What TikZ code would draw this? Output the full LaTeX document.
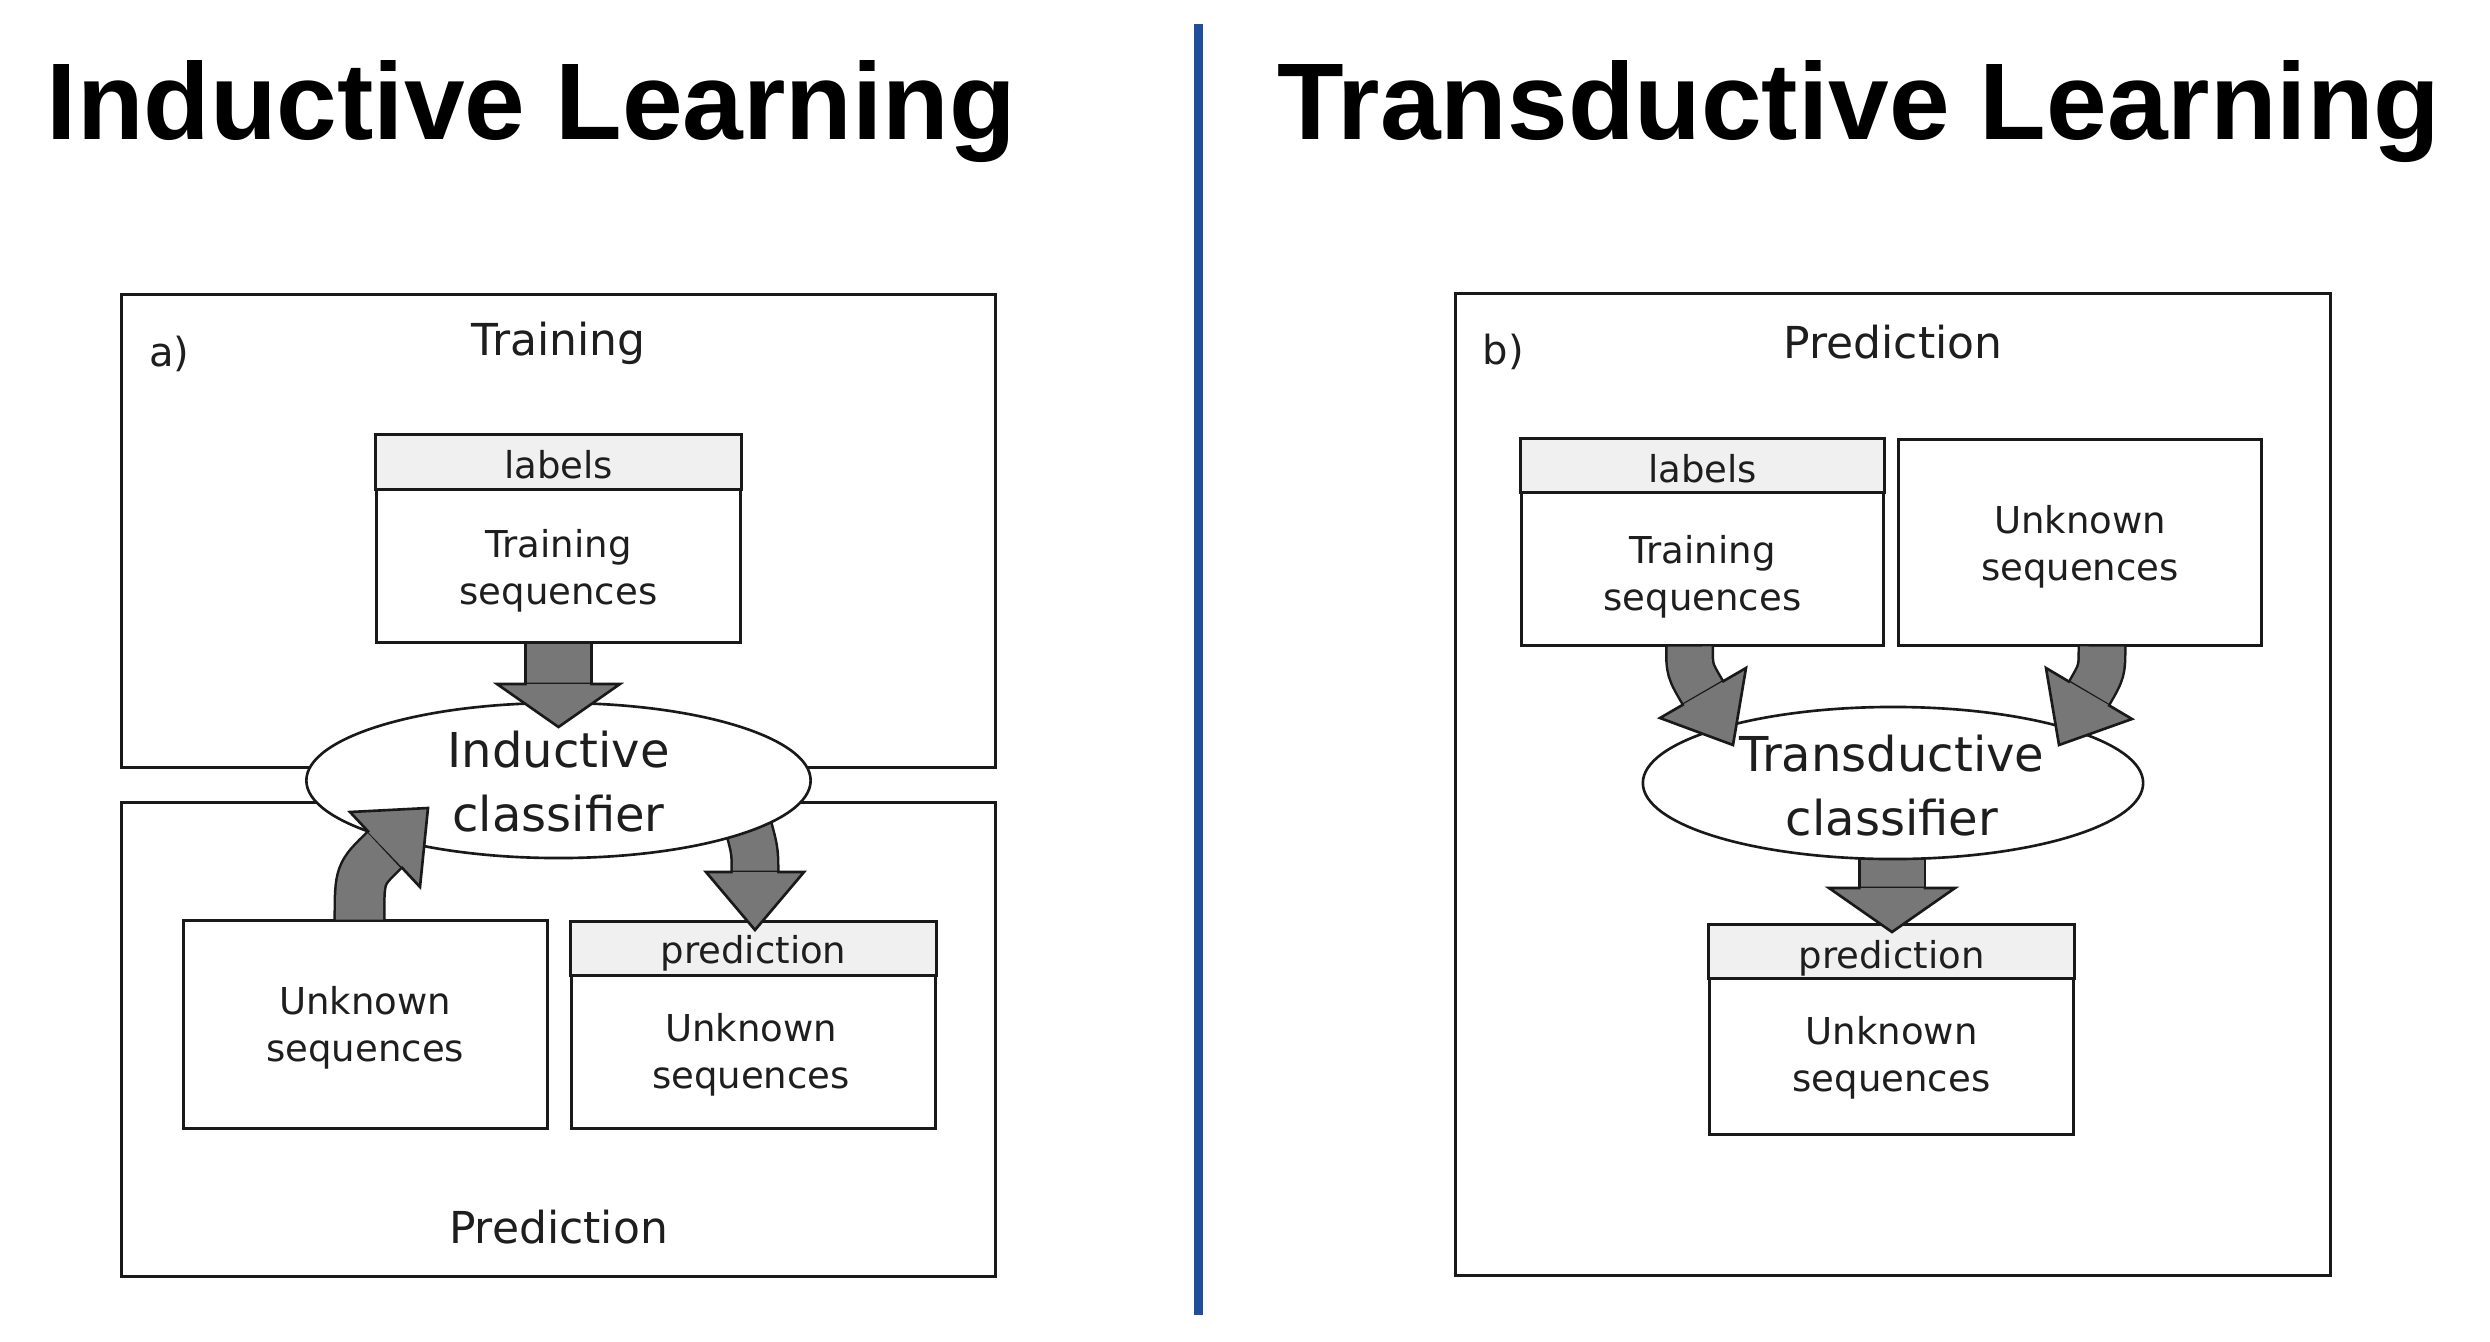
\documentclass[tikz,border=0pt]{standalone}
\usepackage{fontspec}
\setmainfont{DejaVu Sans}
\newfontfamily\titlefont{Liberation Sans}
\usetikzlibrary{calc,shapes.geometric}
\definecolor{arrowgray}{HTML}{777777}
\definecolor{hdrgray}{HTML}{F0F0F0}
\definecolor{divblue}{HTML}{1F4E9B}
\definecolor{txtgray}{HTML}{1E1E1E}
\newcommand\fs[2]{\fontsize{#1pt}{#2pt}\selectfont}
% start, control, end(base mid), barb1, tip, barb2, shaft width (px)
\newcommand\fatarrow[7]{%
  \draw[line width={(#7+5)*0.2845pt}, black!90] (#1) .. controls (#2) .. (#3);
  \draw[line width={#7*0.2845pt}, arrowgray] (#1) .. controls (#2) .. (#3);
  \filldraw[fill=arrowgray, draw=black!90, line width=0.75pt, line join=miter] (#4) -- (#5) -- (#6) -- cycle;
  \draw[line width={#7*0.2845pt}, arrowgray] (#3) -- ($(#3)!0.12!(#5)$);
}
\begin{document}
\begin{tikzpicture}[x=0.01cm, y=-0.01cm,
  panel/.style={draw=black!90, line width=0.85pt, inner sep=0},
  box/.style={draw=black!90, fill=white, line width=0.85pt, inner sep=0},
  hdr/.style={draw=black!90, fill=hdrgray, line width=0.85pt},
  ell/.style={ellipse, draw=black!90, fill=white, line width=0.75pt, inner sep=0},
  txt/.style={inner sep=0, text=txtgray, align=center},
  boxtxt/.style={txt, font=\fs{10.53}{13.09}},
  elltxt/.style={txt, font=\fs{13.66}{18.2}},
  sectxt/.style={txt, font=\fs{12.52}{15}},
  tagtxt/.style={txt, font=\fs{11.4}{14}},
  bigtitle/.style={inner sep=0, text=black, font=\titlefont\bfseries\fs{31.0}{37}}
]
\fill[white] (0,0) rectangle (2490,1342);
\useasboundingbox (0,0) rectangle (2490,1342);

% titles and divider
\node[bigtitle, anchor=base west] (titleA) at (46,139) {Inductive Learning};
\node[bigtitle, anchor=base west] (titleB) at (1276.5,139) {Transductive Learning};
\coordinate (divtop) at (1198,24);
\coordinate (divbot) at (1198,1315);
\draw[divblue, line width=2.56pt] (divtop) -- (divbot);

% ---------------- left panel ----------------
\node[panel, minimum width=8.73cm, minimum height=4.72cm] (trainA) at (558.5,531) {};
\node[panel, minimum width=8.73cm, minimum height=4.73cm] (predpA) at (558.5,1039.5) {};
\node[box, minimum width=3.63cm, minimum height=2.06cm] (labA) at (558.5,539) {};
\draw[hdr] (labA.north west) rectangle ($(labA.north east)+(0,55)$);
\node[box, minimum width=3.635cm, minimum height=2.07cm] (unkA) at (365.25,1024.5) {};
\node[box, minimum width=3.63cm, minimum height=2.05cm] (predA) at (753.5,1025.5) {};
\draw[hdr] (predA.north west) rectangle ($(predA.north east)+(0,54)$);

% arrow from classifier to prediction (start hidden under ellipse)
\fatarrow{745,815}{755,850}{755,872}{706,872}{755,930}{804,872}{44}

\node[ell, minimum width=5.04cm, minimum height=1.55cm] (ellA) at (558.5,780.5) {};

\fatarrow{558.5,643.5}{558.5,664}{558.5,684}{497,684}{558.5,727}{620,684}{63}
\fatarrow{359.5,919.5}{359.5,874}{385,849.5}{350,812}{428,808}{420,887}{47}

\node[tagtxt, anchor=base west] (tagA) at (148.6,366) {a)};
\node[sectxt, anchor=base] (secA1) at (558.5,355) {Training};
\node[sectxt, anchor=base] (secA2) at (558.5,1243) {Prediction};
\node[boxtxt, anchor=base] (labAh) at (558.5,478) {labels};
\node[boxtxt, anchor=base] (labAt) at (558.5,604) {Training\\sequences};
\node[elltxt, anchor=base] (ellAt) at (558.5,831) {Inductive\\classifier};
\node[boxtxt, anchor=base] (unkAt) at (365.25,1061) {Unknown\\sequences};
\node[boxtxt, anchor=base] (predAh) at (753.5,963) {prediction};
\node[boxtxt, anchor=base] (predAt) at (751,1088) {Unknown\\sequences};

% ---------------- right panel ----------------
\node[panel, minimum width=8.74cm, minimum height=9.81cm] (predpB) at (1893,784.5) {};
\node[box, minimum width=3.61cm, minimum height=2.05cm] (labB) at (1702.5,542.5) {};
\draw[hdr] (labB.north west) rectangle ($(labB.north east)+(0,54)$);
\node[box, minimum width=3.62cm, minimum height=2.05cm] (unkB) at (2080,542.5) {};
\node[box, minimum width=3.63cm, minimum height=2.08cm] (predB) at (1891.5,1030) {};
\draw[hdr] (predB.north west) rectangle ($(predB.north east)+(0,54)$);

\fatarrow{1892,840}{1892,864}{1892,888}{1829,888}{1892,932}{1955,888}{63}

\node[ell, minimum width=5.0cm, minimum height=1.52cm] (ellB) at (1893,783) {};

\fatarrow{1689.5,646.5}{1689.5,670}{1703,693}{1660,718}{1733,745}{1746,668}{44}
\fatarrow{2102,646.5}{2102,671}{2089,693.5}{2046,668}{2059,745}{2132,719}{44}

\node[tagtxt, anchor=base west] (tagB) at (1482,364) {b)};
\node[sectxt, anchor=base] (secB) at (1893,358) {Prediction};
\node[boxtxt, anchor=base] (labBh) at (1702.5,482) {labels};
\node[boxtxt, anchor=base] (labBt) at (1702.5,610) {Training\\sequences};
\node[boxtxt, anchor=base] (unkBt) at (2080,580) {Unknown\\sequences};
\node[elltxt, anchor=base] (ellBt) at (1892,835) {Transductive\\classifier};
\node[boxtxt, anchor=base] (predBh) at (1891.5,968) {prediction};
\node[boxtxt, anchor=base] (predBt) at (1891.5,1091) {Unknown\\sequences};
\end{tikzpicture}
\end{document}
